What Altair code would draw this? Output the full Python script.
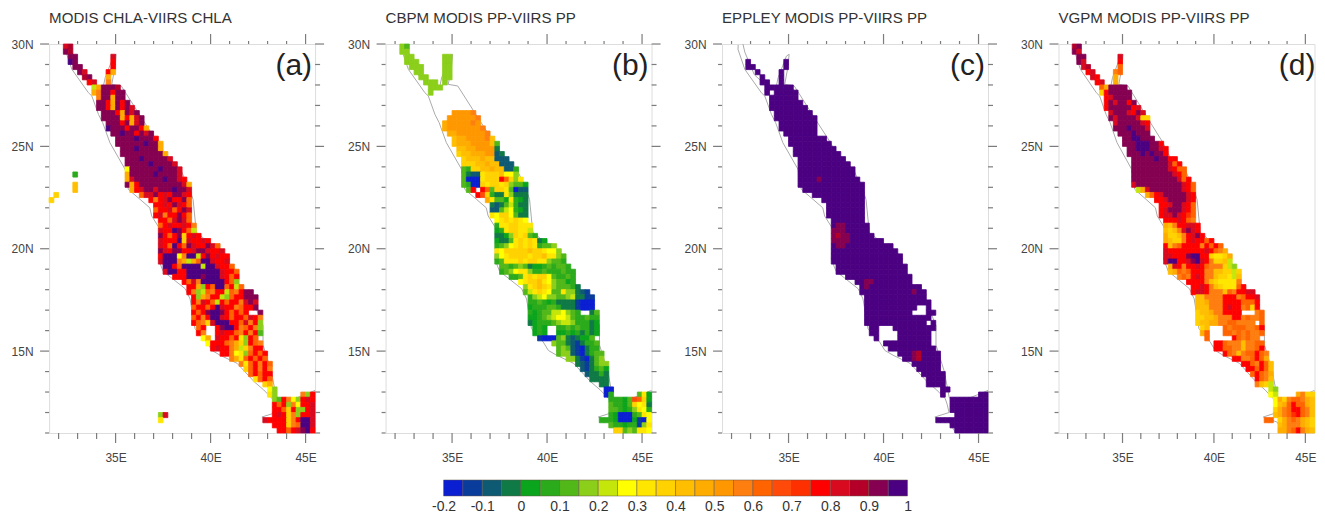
import altair as alt
import pandas as pd

TITLES = ["MODIS CHLA-VIIRS CHLA", "CBPM MODIS PP-VIIRS PP", "EPPLEY MODIS PP-VIIRS PP", "VGPM MODIS PP-VIIRS PP"]
TAGS = ["(a)", "(b)", "(c)", "(d)"]
LEVEL_KEYS = "0123456789abcdefghijklmn"
COLORS = ["#0a1ed2", "#0a3c9c", "#0e5a72", "#0f7a46", "#0aa51c", "#2bab1c", "#52b81a", "#8ccf1a", "#c4e60a", "#ffff00",
          "#ffe600", "#ffd200", "#ffbe00", "#ffac00", "#ff9800", "#ff7e10", "#ff6400", "#ff4a0a", "#ff3000", "#ff0000",
          "#d80a20", "#b40028", "#850050", "#4b0082"]
BAR_LOW = [round(-0.2 + 0.05 * i, 2) for i in range(24)]
BAR_TICKS = [-0.2, -0.1, 0, 0.1, 0.2, 0.3, 0.4, 0.5, 0.6, 0.7, 0.8, 0.9, 1]
MAJOR_LON = [35, 40, 45]
MINOR_LON = [32, 33, 34, 36, 37, 38, 39, 41, 42, 43, 44]
MAJOR_LAT = [30, 25, 20, 15]
MINOR_LAT = [29, 28, 27, 26, 24, 23, 22, 21, 19, 18, 17, 16, 14, 13, 12, 11]

COAST_LON = [32.35, 32.34, 32.7, 33.57, 33.75, 34.1, 34.32, 34.7, 35.5, 35.67, 36.29, 36.8, 36.9, 37.34, 37.25, 37.5,
             38.66, 38.92, 39.18, 39.8, 40.07, 40.5, 41.4, 42.3, 42.8, 43.25, 43.35, 43.45, 42.7, 43.46, 43.8, 45.5,
             45.5, 44.9, 44.35, 43.46, 43.2, 42.76, 42.76, 42.3, 41.3, 40.9, 40.45, 39.25, 39.08, 38.9, 38.4, 37.7,
             37.2, 36.5, 35.3, 34.8, 34.97, 35.03, 34.89, 34.45, 34.36, 33.9, 33.2, 32.7, 32.6]
COAST_LAT = [29.95, 29.74, 28.76, 27.62, 27.46, 26.56, 26.16, 25.18, 23.88, 22.9, 22.41, 22.0, 21.6, 20.95, 19.5, 18.9,
             18.05, 17.55, 16.1, 15.44, 15.03, 14.8, 14.4, 13.5, 13.1, 12.67, 12.4, 12.0, 11.78, 11.53, 11.0, 11.0,
             13.08, 12.85, 12.65, 12.72, 14.0, 15.3, 16.25, 17.3, 18.5, 19.35, 19.9, 20.8, 22.4, 22.9, 23.9, 24.3,
             25.2, 26.2, 27.95, 28.03, 28.9, 29.5, 29.41, 28.35, 27.95, 27.9, 28.5, 29.6, 30.0]

ROW_START = [3, 3, 4, 4, 5, 6, 7, 8, 9, 9, 10, 10, 10, 11, 11, 12, 12, 13, 14, 14, 15, 15, 16, 16, 16, 16, 16, 16, 17, 19,
             21, 22, 22, 22, 23, 23, 23, 23, 23, 23, 23, 23, 23, 24, 24, 26, 28, 29, 29, 30, 30, 30, 30, 30, 30, 31, 31,
             32, 33, 34, 36, 38, 40, 41, 42, 43, 43, 46, 46, 47, 47, 47, 47, 45, 47, 48]

ROWS_A = ["kl", "ml", "mm       k", "nm       j", "mm      j", "mk    jd", "lm   d", "jk  f", "8dmmml", "dfmmjmm",
          "fmmdmm", "mmjdmjm", "mmjdmjmk", "mmmjdmkm", "mmmmdjdkm", "mmmjmdkm", "nmmmjmmjd", "mmnmmjmkm", "mmmmnmmmj",
          "mmmmmmnmmd", "mmmnmmmmd", "mmmmmmmmmd", "mmmnmmmmmk", "mmmmmnmmmmk", "9mmmmmmnmmmk", "dmmmmmnmmmmk",
          "dkmmmmmmnmmkj", "mdjmmmmmmmmmkd", "djkmmkmmmnmmk", "gkkmjkjmmkj", "jfjkmjjmg", "jjkjmkjg", "gjjkgjmk",
          "jkfjjmjg", "jjgkmkg", "gjkjjkjf", "kjjnmjg8", "mjgjmbjkj", "kjjjnbkjjkj", "kjgnjgmkjjmkg", "mkjmmjjkmmkjjk",
          "jnnn9fnn8jmjkjj", "knnnfd8dgnnkjjk", "nnjgnnnn8nnkjjg", "knnjjnnnnnnnkjjg", "jjjnnnmnnnkjgj", "jgkfnnnnnjg7",
          "jjd7jgnngj8g", "jf78gfjj8gfjmm", "j7dfjj87gjjmmm", "jfkjg8jgjjfkmk", "gjjgjnkjjfgjjm", "jgjmnnmjgjgj  m",
          "gjfjnnkjgjjgkjf", "jgfbknnnjjgkfj7", "gj  jmnnjfgjf7", "jf  jkjjgfjfj6", "9d kjjgja7jg", "9jjjgfdb7jgf",
          "jkjjfd8bfjj", "jjf9a7gjgj", "fdagjgjg", "fagjfjg", "bgjfjf", "gjgjj", "agjg", "  bd", "97", "a7     f7j",
          "76jf97jkj", "jgj7f9jjk", "jjgbj77jk", "jkjbf7jjk", "kjjjjbfjnnk", "jjjbfgnnk", "jjgjkmnj"]

ROWS_B = ["76", "77", "77      77", "777     77", "777    77", "77    77", "77   77", "777 7", "777", "7", "", "", "",
          "   eeeef", "  eeeeeef", "deeeeefe", "deeeeeeef", "ddeeeeeef", "cddeeeefc", "cdddeeeec6", "ccddeeee3",
          "bccdddee23", "bcccdcc222", "bbbccdcc222", "65bbccdcc225", "6322abbbc997", "6000abbbjgb7a", "6500babbab7664",
          "6j jg6bba6022", "jhb533a7333", "da664a543", "32368533", "22689543", "a9bb9633", "9ababa9", "5aabbaaa",
          "45abbaa8", "3347bab65", "4336ababa34", "5679ababa5667", "a9bbbbbcbba997", "79abbbbabbcaa76", "56aaababbaa7665",
          "665676344565665", "5679aa7556555655", "556ababb965565", "9abbca976645", "7abcba766653", "68aba966a77321",
          "57897766783311", "55654533331000", "45556653331000", "54566889765  36", "445678998655655", "345556788755534",
          "454  556565534", "454  445453534", "100067323446", "  7663213556", "  676210355", "6772103566", "77310367",
          "3213677", "213564", "23353", "3333", "  33", "00", "05     6a4", "55546hgb4", "65546b9a3", "665457a95",
          "5400056a9", "55540004109", "65545517a", "bb676aa9"]

ROWS_C = ["", "", "", " n       n", "nn      n", " n    n", " n   n", "nn  n", "nnnnnn", "n nnnnn", "nnnnnn", "nnnnnnn",
          "nnnnnnnn", "nnnnnnnn", "nnnnnnnnn", "nnnnnnnn", "nnnnnnnn", "nnnnnnn", "nnnnnnnn", "nnnnnnnnn", "nnnnnnnnn",
          "nnnnnnnnnn", "nnnnnnnnnn", "nnnnnnnnnnn", "nnnnnnnnnnnn", "nnnnnnnnnnnn", "nnnnmnnnnnnnn", "nnnnnnnnnnnnnn",
          "nnnnnnnnnnnnn", "nnnnnnnnnnn", "nnnnnnnnn", "nnnnnnnn", "nnnnnnnn", "nnnnnnnn", "nnnnnnn", "nmmnnnnn", "mmmnnnnn",
          "mlmmnnnnn", "mmmmnnnnnnn", "nmmnnnnnnnnnn", "nnnnnnnnnnnnnn", "nnnnnnnnnnnnnnn", "nnnnnnnnnnnnnnn",
          "nnnnnnnnnnnnnnn", "nnnnnnnnnnnnnnn", "nnnnnnnnnnnnnn", "nnmmnnnnnnnn", "nmnnnnnnnnnnn", "nnnnnnnnnnnmnn",
          "nnnnnnnnnnnnn", "nnnnnnnnnnnnnn", "nnnnnnnnnnn  n", "nnnnnnnnnn   nn", "nnnnnnnnnnnnnn", "nnnnnnnnnnnnn n",
          "nn   nnnnnnnnn", "nn    nnnnnnn", "n    nnnnnnn", " nnnnnnnnnn", " nnnnnnnnnn", " nnnmlnnnn", "nnmlnnnn", "nnnnnn",
          "nnnnn", "nnnnn", "nnnn", "nnnn", "nn", "n       nn", " nnnnnnnn", " nnnnnnnn", " nnnnnnnn", "  nnnnnnn",
          "nnnnnnnnnnn", " nnnnnnnn", " nnnnnnn"]

ROWS_D = ["lm", "mk", "mm       k", "mk       j", "kl      g", "jk    fg", "kj   d", "jk  d", "gdmmmm", "bjmmmmm", "jkmmmm",
          "jmkmmjm", "jmmmmmjk", "kmmmkjmk", "mkmmmmkbb", "kmmmmmkj", "mmmnmmmk", "mmmnmmm", "mmnnmmm", "mmmnnnmmj",
          "mmnnnmmkj", "mmmnmnmmj", "mmmmmnmmjj", "mmmmmmmmkgj", "mmmmmmmmkjgg", "mmmmmmmmmkjg", "mmmmmmmmmmkgj",
          "kmmmmmmmmmmkjg", "8dkmmmmmmmkjg", "dgjkmmmmmkj", "jjkmmmmkj", "jjkmmkjg", "jkmmmkjg", "jkkmkjig", "jjjkjgf",
          "dcfjjkkj", "cbcfkmkj", "dbbcfjkmj", "dcbbfjkjjgj", "jcfgjjjjfjgjg", "kjjjjjjjjkjgfd", "kkjjjmnnjjbaabd",
          "knnjjkmnkjfbbc8", "dkjfjjkjgfffb87", "cdgfgjjjffccbb8b", "fgfjkjffcbba8c", "jjjjfcbaaaaf", "jjkjfcbaaagj",
          "jkkjfffcgfjjkk", "ccffffjjjfgjjk", "ccdfffjjjjgggj", "cccfffjkjjfgbj", "bccdffjjjj   fg", "bbccdfffjjfgffg",
          "bccddffggffff g", "bc   gfgggffgj", "dg   ggfgfgffg", "g     jgfgff", " jjgfffcffgg", "jjggffcffgj",
          "jgfcfggjgf", "jjffgjgd", "jjgfjgc", "jjgjgc", "gjgfd", "jgfc", "fcb8", "87", "98    dfbb", "9dbfggfdc", "9cdgjggdc",
          "bdfgjjgfc", "cdfgijgfc", "gg bdfgfdcb", " cdfffdcb", "ddfgjfdc"]

# Small patches outside the sea in panel (a): column, row, level key
EXTRA_A_COL = [0, 1, 5, 5, 5, 23, 24, 23]
EXTRA_A_ROW = [30, 29, 27, 28, 25, 72, 72, 73]
EXTRA_A_KEY = ["b", "b", "c", "c", "5", "7", "k", "a"]

PANEL_ROWS = [ROWS_A, ROWS_B, ROWS_C, ROWS_D]
PANEL_WIDTH = [266, 266, 266, 256]
TAG_X = [263, 263, 263, 257]
FONT = "Liberation Sans"
GREY = "#7c7c7c"
LEVEL_DOMAIN = list(range(24))


def cells(rows, extra=()):
    out = []
    for j, row in enumerate(rows):
        for k, ch in enumerate(row):
            if ch != " ":
                out.append((ROW_START[j] + k, j, ch))
    out.extend(extra)
    return pd.DataFrame(
        [{"lon": 31.5 + 0.25 * c, "lon2": 31.75 + 0.25 * c, "lat": 30 - 0.25 * r, "lat2": 29.75 - 0.25 * r,
          "level": LEVEL_KEYS.index(k)} for c, r, k in out])


xs = alt.Scale(domain=[31.5, 45.5], nice=False, zero=False)
ys = alt.Scale(domain=[11, 30], nice=False, zero=False)
level_scale = alt.Scale(domain=LEVEL_DOMAIN, range=COLORS)


def panel(i):
    w = PANEL_WIDTH[i]
    extra = list(zip(EXTRA_A_COL, EXTRA_A_ROW, EXTRA_A_KEY)) if i == 0 else ()
    coast = alt.Chart(pd.DataFrame({"lon": COAST_LON, "lat": COAST_LAT, "o": range(len(COAST_LON))})).mark_line(
        color="#aaaaaa", strokeWidth=1, clip=True
    ).encode(
        x=alt.X("lon:Q", scale=xs,
                axis=alt.Axis(values=MAJOR_LON, labelExpr="datum.value + 'E'", title=None, grid=False, domain=False,
                              ticks=False, labelPadding=20, labelFont=FONT, labelFontSize=12, labelColor="#444")),
        y=alt.Y("lat:Q", scale=ys,
                axis=alt.Axis(values=MAJOR_LAT, labelExpr="datum.value + 'N'", title=None, grid=False, domain=False,
                              ticks=False, labelPadding=16, labelFont=FONT, labelFontSize=12, labelColor="#444")),
        order="o:Q",
    )
    rect = alt.Chart(cells(PANEL_ROWS[i], extra)).mark_rect(strokeWidth=0.8).encode(
        x=alt.X("lon:Q", scale=xs), x2="lon2:Q", y=alt.Y("lat:Q", scale=ys), y2="lat2:Q",
        color=alt.Color("level:O", scale=level_scale, legend=None),
        stroke=alt.Stroke("level:O", scale=level_scale, legend=None),
    )
    lon_major = pd.DataFrame({"lon": MAJOR_LON})
    lon_minor = pd.DataFrame({"lon": MINOR_LON})
    lat_major = pd.DataFrame({"lat": MAJOR_LAT})
    lat_minor = pd.DataFrame({"lat": MINOR_LAT})
    tick = dict(color=GREY, strokeWidth=1.2)
    layers = [
        coast,
        rect,
        alt.Chart(lon_major).mark_rule(**tick).encode(x=alt.X("lon:Q", scale=xs), y=alt.value(-10), y2=alt.value(0)),
        alt.Chart(lon_major).mark_rule(**tick).encode(x=alt.X("lon:Q", scale=xs), y=alt.value(389), y2=alt.value(399)),
        alt.Chart(lon_minor).mark_rule(**tick).encode(x=alt.X("lon:Q", scale=xs), y=alt.value(-3), y2=alt.value(0)),
        alt.Chart(lon_minor).mark_rule(**tick).encode(x=alt.X("lon:Q", scale=xs), y=alt.value(389), y2=alt.value(395)),
        alt.Chart(lat_major).mark_rule(**tick).encode(y=alt.Y("lat:Q", scale=ys), x=alt.value(-9), x2=alt.value(0)),
        alt.Chart(lat_minor).mark_rule(**tick).encode(y=alt.Y("lat:Q", scale=ys), x=alt.value(-4), x2=alt.value(0)),
        alt.Chart(pd.DataFrame({"t": [TAGS[i]]})).mark_text(
            align="right", baseline="middle", font=FONT, fontSize=30, color="#222"
        ).encode(x=alt.value(TAG_X[i]), y=alt.value(22), text="t:N"),
    ]
    if i < 3:
        layers += [
            alt.Chart(lat_major).mark_rule(**tick).encode(y=alt.Y("lat:Q", scale=ys), x=alt.value(w), x2=alt.value(w + 9)),
            alt.Chart(lat_minor).mark_rule(**tick).encode(y=alt.Y("lat:Q", scale=ys), x=alt.value(w), x2=alt.value(w + 5)),
        ]
    return alt.layer(*layers).resolve_scale(color="shared").properties(
        width=w, height=389,
        title=alt.TitleParams(TITLES[i], anchor="start", font=FONT, fontSize=15.1, fontWeight="normal", color="#333",
                              offset=7, frame="group"),
    )


bar = alt.Chart(pd.DataFrame({"lo": BAR_LOW, "hi": [round(v + 0.05, 2) for v in BAR_LOW], "level": LEVEL_DOMAIN})).mark_rect(
    stroke="#665544", strokeWidth=0.5
).encode(
    x=alt.X("lo:Q", scale=alt.Scale(domain=[-0.2, 1], range=[394.5, 858.5], nice=False, zero=False),
            axis=alt.Axis(values=BAR_TICKS, labelExpr="'' + datum.value", title=None, grid=False, domain=False,
                          ticks=False, labelPadding=4, labelFont=FONT, labelFontSize=14, labelColor="#333",
                          labelFlush=False, labelOverlap=False)),
    x2="hi:Q",
    color=alt.Color("level:O", scale=level_scale, legend=None),
).properties(width=1200, height=16, view=alt.ViewBackground(stroke="transparent"))

top = alt.hconcat(panel(0), panel(1), panel(2), panel(3), spacing=70.5, bounds="flush")
chart = alt.vconcat(top, bar, spacing=436, bounds="flush").properties(
    padding={"left": 2.1, "top": 2, "right": 0, "bottom": 0}
).configure_view(stroke=GREY, strokeWidth=1.8).configure(background="white")

chart.save("out.html", embed_options={"renderer": "svg", "actions": False})
